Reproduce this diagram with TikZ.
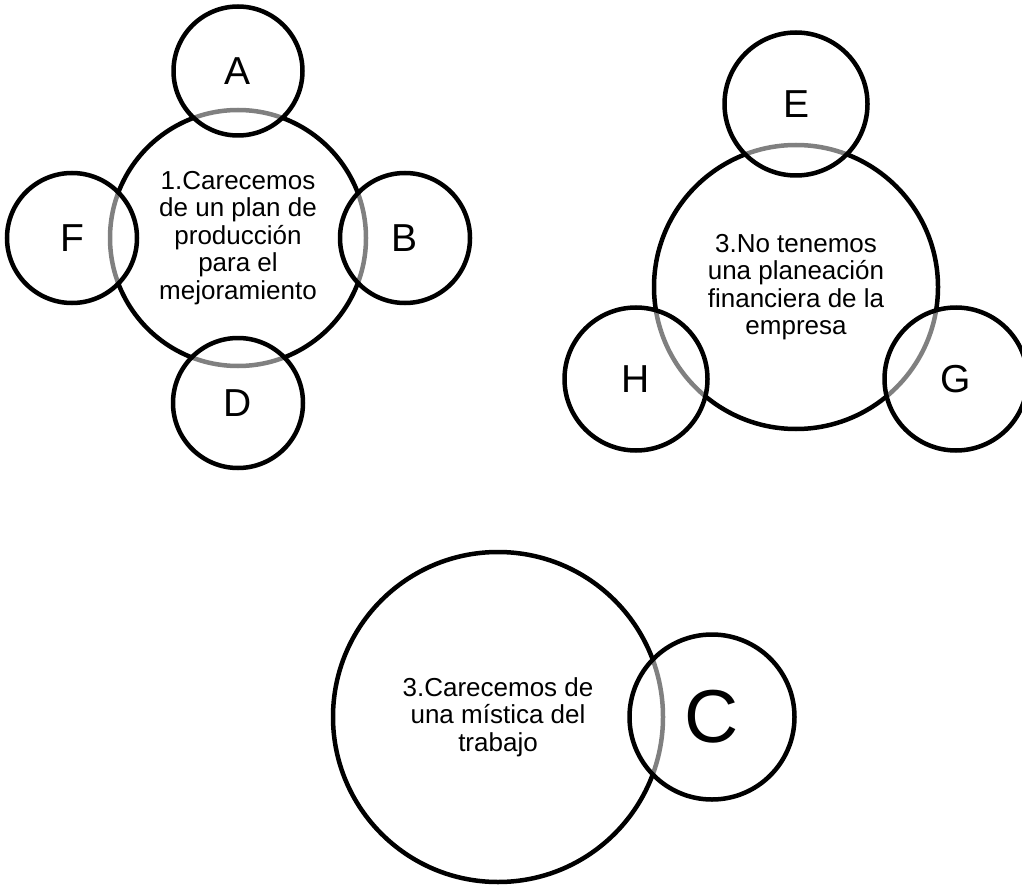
\documentclass[tikz,border=0pt]{standalone}
\usepackage{fontspec}
\setmainfont{Liberation Sans}
\begin{document}
\begin{tikzpicture}[x=1pt,y=-1pt,
  ring/.style={circle,draw=black,line width=4.5pt,inner sep=0pt,align=center},
  core/.style={ring,fill=white,font=\fontsize{26}{27.4}\selectfont},
  petal/.style={ring,fill=white,fill opacity=0.5,text opacity=1,draw opacity=1,
                font=\fontsize{39}{40}\selectfont},
  bigpetal/.style={petal,font=\fontsize{75}{80}\selectfont}]
\clip (0,0) rectangle (1022,885);
\fill[white] (0,0) rectangle (1022,885);

% first cluster: central problem with four surrounding causes
\node[core,minimum size=256pt] (p1) at (238,238)
  {1.Carecemos\\de un plan de\\producción\\para el\\mejoramiento};
\node[petal,minimum size=129pt] (A) at (238,71) {A};
\node[petal,minimum size=130pt] (B) at (405,238) {B};
\node[petal,minimum size=130pt] (D) at (238,403) {D};
\node[petal,minimum size=130pt] (F) at (72,238) {F};

% second cluster: central problem with three surrounding causes
\node[core,minimum size=284pt] (p2) at (796,287)
  {3.No tenemos\\una planeación\\financiera de la\\empresa};
\node[petal,minimum size=143pt] (E) at (796,104) {E};
\node[petal,minimum size=143pt] (H) at (636,379) {H};
\node[petal,minimum size=143pt] (G) at (956,379) {G};

% third cluster: central problem with a single cause
\node[core,minimum size=330pt] (p3) at (498,717)
  {3.Carecemos de\\una mística del\\trabajo};
\node[bigpetal,minimum size=165pt] (C) at (712,717) {C};
\end{tikzpicture}
\end{document}
